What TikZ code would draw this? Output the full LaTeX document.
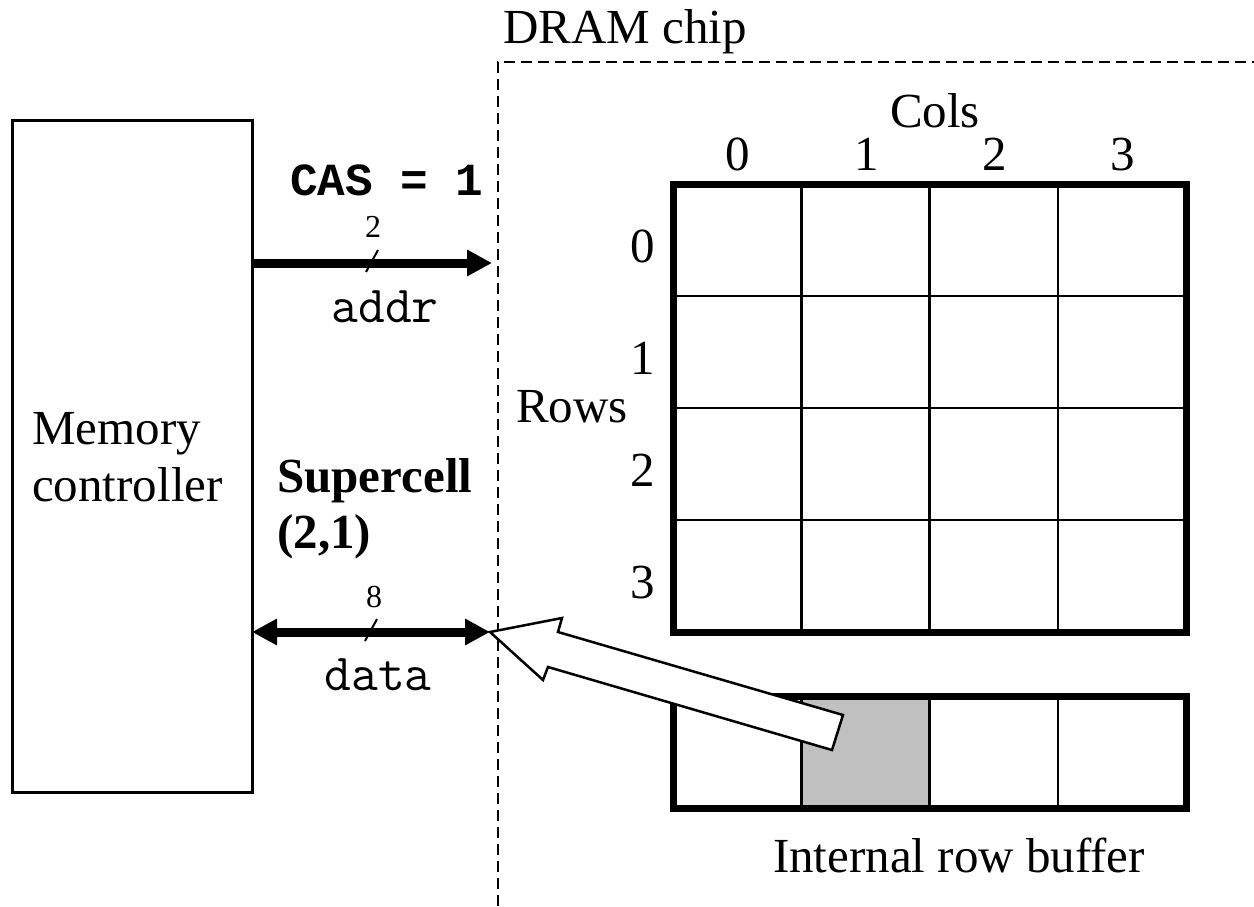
\documentclass[tikz,border=0pt]{standalone}
\usepackage{fontspec}
\setmainfont{Liberation Serif}
\newfontfamily\casfont{Liberation Mono}
\usetikzlibrary{arrows.meta}
\definecolor{cellgray}{HTML}{C0C0C0}
\begin{document}
\begin{tikzpicture}[x=1pt,y=-1pt,
  big/.style={font=\fontsize{49}{57}\selectfont, inner sep=0pt},
  mono/.style={font=\fontsize{52}{58}\selectfont\ttfamily, inner sep=0pt},
  small/.style={font=\fontsize{32}{34}\selectfont, inner sep=0pt},
  thinline/.style={line width=2.5pt},
  heavy/.style={line width=7pt, line cap=rect},
  cellbox/.style={draw, thinline, minimum width=128.25pt, minimum height=112pt,
                  inner sep=0pt, outer sep=0pt},
  bus/.style={line width=9pt, -{Triangle[length=25pt,width=25pt]}},
  busboth/.style={line width=9pt, {Triangle[length=25pt,width=25pt]}-{Triangle[length=25pt,width=25pt]}},
  slash/.style={line width=2pt},
  chipedge/.style={line width=2.5pt, dash pattern=on 11pt off 6pt},
  bigarrow/.style={line width=2.5pt, fill=white, line join=miter}
]
\useasboundingbox (0,0) rectangle (1254,906);

% memory controller
\node[draw, line width=3pt, minimum width=240pt, minimum height=672pt,
      inner sep=0pt, outer sep=0pt, anchor=north west] (mc) at (12,120) {};
\node[big, align=left, anchor=north west] (mclabel) at (32,412) {Memory\\controller};

% chip boundary
\coordinate (chipcorner) at (498,62);
\coordinate (chipbottom) at (498,906);
\coordinate (chipright) at (1254,62);
\draw[chipedge] (chipbottom) -- (chipcorner) -- (chipright);
\node[big, anchor=base west] (chiplabel) at (503,43) {DRAM chip};

% supercell array
\foreach \r in {0,...,3}
  \foreach \c in {0,...,3}
    \node[cellbox] (cell-\r-\c) at (673+128.25*\c+64.125, 184+112*\r+56) {};
\draw[heavy] (cell-0-0.north west) rectangle (cell-3-3.south east);

\foreach \c in {0,...,3}
  \node[big, anchor=base] (col-\c) at (738.125+128.25*\c, 170) {\c};
\node[big, anchor=base] (colslabel) at (935,127) {Cols};
\foreach \r in {0,...,3}
  \node[big, anchor=base] (row-\r) at (643, 262+112*\r) {\r};
\node[big, anchor=base] (rowslabel) at (572,422) {Rows};

% internal row buffer
\foreach \c in {0,...,3}
  \node[cellbox] (buf-\c) at (673+128.25*\c+64.125, 752.5) {};
\path[fill=cellgray] (buf-1.north west) rectangle (buf-1.south east);
\draw[thinline] (buf-1.north west) rectangle (buf-1.south east);
\draw[heavy] (buf-0.north west) rectangle (buf-3.south east);
\node[big, anchor=base] (buflabel) at (959,872) {Internal row buffer};

% address bus
\coordinate (addrend) at (492,263);
\draw[bus] (mc.east |- addrend) -- coordinate[pos=0.5] (addrmid) (addrend);
\draw[slash] ([shift={(6,-13)}]addrmid) -- ([shift={(-6,9)}]addrmid);
\node[small] (addrwidth) at ([shift={(1,-36)}]addrmid) {2};
\node[mono, anchor=base] (addrlabel) at (385,322) {addr};
\node[font=\fontsize{46}{52}\selectfont\casfont\bfseries, inner sep=0pt, anchor=base]
  (caslabel) at (387,195) {CAS = 1};

% supercell moving out of the buffer
\coordinate (dataend) at (490,632);
\draw[bigarrow] (dataend) -- (562,618) -- (558,632) -- (843,715) -- (832,750)
  -- (548,667) -- (543,680) -- cycle;

% data bus
\draw[busboth] (mc.east |- dataend) -- coordinate[pos=0.5] (datamid) (dataend);
\draw[slash] ([shift={(6,-13)}]datamid) -- ([shift={(-6,9)}]datamid);
\node[small] (datawidth) at ([shift={(3,-35)}]datamid) {8};
\node[mono, anchor=base] (datalabel) at (378,690) {data};

\node[big, font=\fontsize{49}{56}\selectfont\bfseries, align=left, anchor=north west]
  (superlabel) at (277,458) {Supercell\\(2,1)};
\end{tikzpicture}
\end{document}
